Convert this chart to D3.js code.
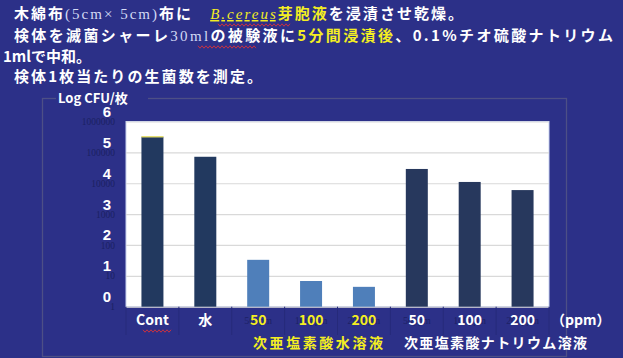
<!DOCTYPE html>
<html>
<head>
<meta charset="utf-8">
<script src="https://cdn.jsdelivr.net/npm/d3@7"></script>
<style>
  html, body { margin: 0; padding: 0; background: #2c3088; }
  svg { display: block; }
</style>
</head>
<body>
<svg id="chart" width="623" height="358"></svg>
<script>
// Bacterial counts (CFU per piece) after 5 min immersion
const categoryIds = ["cont", "water", "hocl50", "hocl100", "hocl200", "naocl50", "naocl100", "naocl200"];
const categoryLabels = ["Cont", "水", "50", "100", "200", "50", "100", "200"];
const categoryNames = ["Cont", "水", "50ppm", "100ppm", "200ppm", "50ppm", "100ppm", "200ppm"];
const categoryGroups = ["ctrl", "ctrl", "hocl", "hocl", "hocl", "naocl", "naocl", "naocl"];
const cfuPerPiece = [320000, 72000, 33, 6.8, 4.4, 29000, 11000, 6000];
const logTicks = [1, 10, 100, 1000, 10000, 100000, 1000000];
const logTickLabels = ["0", "1", "2", "3", "4", "5", "6"];
const groupLabels = ["次亜塩素酸水溶液", "次亜塩素酸ナトリウム溶液"];

const BG = "#2c3088";
const YELLOW = "#f4ee22";
const barFill = { ctrl: "#22395f", hocl: "#4f7fba", naocl: "#27385d" };
const labelFill = { ctrl: "#ffffff", hocl: YELLOW, naocl: "#ffffff" };
const JP = "'Noto Sans CJK JP', 'Noto Sans', sans-serif";

const svg = d3.select("#chart");
svg.append("rect").attr("width", 623).attr("height", 358).attr("fill", BG);

// ---- heading ----
const heading = svg.append("g").attr("font-family", JP).attr("font-weight", 700)
  .attr("font-size", 15).attr("fill", "#ffffff");

function headingLine(x, y, len, parts) {
  const t = heading.append("text").attr("x", x).attr("y", y);
  if (len) t.attr("textLength", len).attr("lengthAdjust", "spacing");
  parts.forEach(p => {
    const s = t.append("tspan").text(p.t);
    if (p.c) s.attr("fill", p.c);
    if (p.serif) s.attr("font-family", "'Liberation Serif', serif").attr("font-weight", 400);
    if (p.italic) s.attr("font-style", "italic");
    if (p.u) s.attr("text-decoration", "underline");
  });
}
headingLine(14, 19, 449, [
  { t: "木綿布" },
  { t: "(5cm× 5cm)", c: "#d3d9f4", serif: true },
  { t: "布に　" },
  { t: "B.cereus", c: YELLOW, serif: true, italic: true, u: true },
  { t: "芽胞液", c: YELLOW },
  { t: "を浸漬させ乾燥。" }
]);
headingLine(14, 41, 599, [
  { t: "検体を滅菌シャーレ" },
  { t: "30ml", c: "#d3d9f4", serif: true },
  { t: "の被験液に" },
  { t: "5分間浸漬後", c: YELLOW },
  { t: "、0.1%チオ硫酸ナトリウム" }
]);
headingLine(3, 62, null, [{ t: "1mlで中和。" }]);
headingLine(14, 82, 248, [{ t: "検体1枚当たりの生菌数を測定。" }]);

// red spell-check squiggles
function squiggle(x0, x1, y) {
  const pts = [];
  for (let x = x0, i = 0; x <= x1; x += 2, i++) pts.push([x, y + (i % 2 ? 1.2 : -1.2)]);
  svg.append("path").attr("d", d3.line()(pts)).attr("fill", "none")
    .attr("stroke", "#d8323a").attr("stroke-width", 0.9);
}
squiggle(218, 290, 25);
squiggle(198, 256, 47);

// ---- chart frame ----
svg.append("rect").attr("x", 42.5).attr("y", 98.5).attr("width", 524).attr("height", 258)
  .attr("fill", "none").attr("stroke", "#4d4f86").attr("stroke-width", 1.3);

const plot = { left: 126, right: 549, top: 121.5, bottom: 306.7 };

const x = d3.scaleBand().domain(categoryIds).range([plot.left, plot.right])
  .paddingInner(0.584).paddingOuter(0.292);
const y = d3.scaleLog().domain([1, 1e6]).range([plot.bottom, plot.top]);

svg.append("rect").attr("x", plot.left).attr("y", plot.top)
  .attr("width", plot.right - plot.left).attr("height", plot.bottom - plot.top)
  .attr("fill", "#ffffff").attr("stroke", "#c9d3f0").attr("stroke-width", 1);

// log axis with gridlines and faint count labels
const yAxis = svg.append("g").attr("transform", `translate(${plot.left},0)`)
  .call(d3.axisLeft(y).tickValues(logTicks).tickFormat(d3.format("d"))
    .tickSize(-(plot.right - plot.left)).tickPadding(11));
yAxis.select(".domain").remove();
yAxis.selectAll(".tick line").attr("stroke", "#d9d9d9").attr("stroke-width", 1.2);
yAxis.selectAll(".tick text").attr("fill", "#1b2062")
  .attr("font-family", "'Liberation Serif', serif").attr("font-size", 9.5);

// bars
svg.append("g").selectAll("rect").data(cfuPerPiece).join("rect")
  .attr("x", (d, i) => x(categoryIds[i]))
  .attr("y", d => y(d))
  .attr("width", x.bandwidth())
  .attr("height", d => plot.bottom - y(d))
  .attr("fill", (d, i) => barFill[categoryGroups[i]]);

// highlight edge on the control bar
svg.append("line")
  .attr("x1", x(categoryIds[0])).attr("x2", x(categoryIds[0]) + x.bandwidth())
  .attr("y1", y(cfuPerPiece[0])).attr("y2", y(cfuPerPiece[0]))
  .attr("stroke", "#e9e16a").attr("stroke-width", 1.4);

// category dividers below the plot
const bounds = categoryIds.map(id => x(id) - x.step() * x.paddingInner() / 2);
bounds.push(plot.right);
bounds[0] = plot.left;
svg.append("g").selectAll("line").data(bounds).join("line")
  .attr("x1", d => d).attr("x2", d => d)
  .attr("y1", plot.bottom).attr("y2", 335)
  .attr("stroke", "#262a7a").attr("stroke-width", 1);

// faint original concentration names
svg.append("g").selectAll("text").data(categoryNames.slice(2)).join("text")
  .attr("x", (d, i) => x(categoryIds[i + 2]) + x.bandwidth() / 2)
  .attr("y", 324).attr("text-anchor", "middle")
  .attr("font-family", "'Liberation Serif', serif").attr("font-size", 10)
  .attr("fill", "#1d2166").text(d => d);

// category labels
svg.append("g").selectAll("text").data(categoryLabels).join("text")
  .attr("x", (d, i) => x(categoryIds[i]) + x.bandwidth() / 2)
  .attr("y", 325).attr("text-anchor", "middle")
  .attr("font-family", JP).attr("font-weight", 700).attr("font-size", 14)
  .attr("fill", (d, i) => labelFill[categoryGroups[i]]).text(d => d);
squiggle(143, 172, 331);

svg.append("text").attr("x", 551).attr("y", 325)
  .attr("font-family", JP).attr("font-weight", 700).attr("font-size", 14)
  .attr("fill", "#ffffff").text("（ppm）");

// group labels
svg.append("text").attr("x", 253).attr("y", 348).attr("textLength", 130)
  .attr("lengthAdjust", "spacing")
  .attr("font-family", JP).attr("font-weight", 700).attr("font-size", 14)
  .attr("fill", YELLOW).text(groupLabels[0]);
svg.append("text").attr("x", 404).attr("y", 348).attr("textLength", 183)
  .attr("lengthAdjust", "spacing")
  .attr("font-family", JP).attr("font-weight", 700).attr("font-size", 14)
  .attr("fill", "#ffffff").text(groupLabels[1]);

// log exponent labels
svg.append("g").selectAll("text").data(logTicks).join("text")
  .attr("x", 107).attr("y", d => y(d) - 10)
  .attr("text-anchor", "middle").attr("dominant-baseline", "central")
  .attr("font-family", "'Liberation Sans', Arial, sans-serif").attr("font-weight", 700)
  .attr("font-size", 15).attr("fill", "#ffffff")
  .text((d, i) => logTickLabels[i]);

// axis title sitting on the frame
svg.append("rect").attr("x", 56).attr("y", 91).attr("width", 92).attr("height", 15).attr("fill", BG);
svg.append("text").attr("x", 58).attr("y", 103)
  .attr("font-family", JP).attr("font-weight", 700).attr("font-size", 13)
  .attr("fill", "#ffffff").text("Log CFU/枚");
</script>
</body>
</html>
